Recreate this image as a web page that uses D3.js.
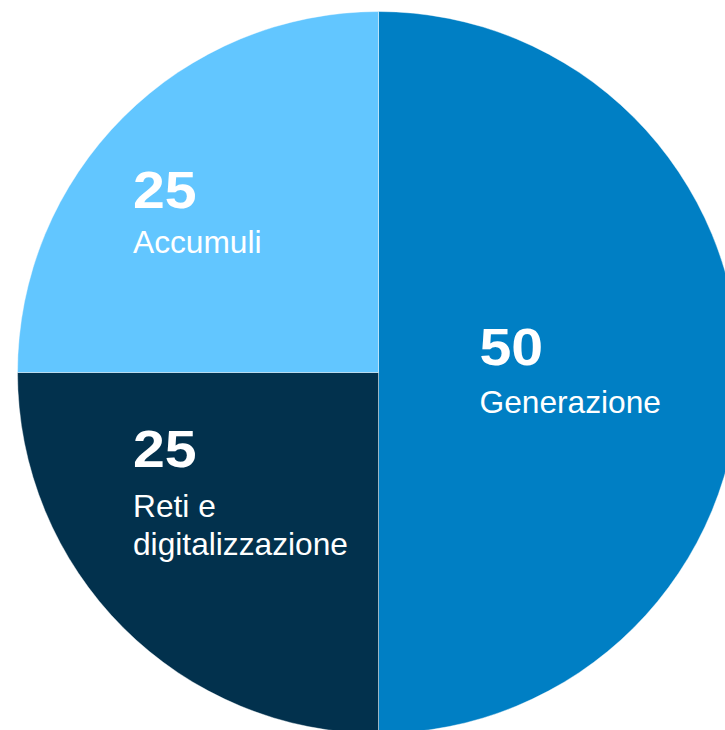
<!DOCTYPE html>
<html>
<head>
<meta charset="utf-8">
<script src="https://cdn.jsdelivr.net/npm/d3@7"></script>
<style>
  html, body { margin: 0; padding: 0; background: #ffffff; }
  svg { display: block; }
</style>
</head>
<body>
<script>
const categories = ["Generazione", "Reti e digitalizzazione", "Accumuli"];
const labelLines = [["Generazione"], ["Reti e", "digitalizzazione"], ["Accumuli"]];
const values = [50, 25, 25];
const colors = ["#007FC4", "#02314D", "#62C6FF"];

const W = 725, H = 730;
const cx = 378.5, cy = 372.5, R = 361;

const svg = d3.select("body").append("svg").attr("width", W).attr("height", H);
const g = svg.append("g").attr("transform", `translate(${cx},${cy})`);

const pie = d3.pie().sort(null).value(d => d)(values);
const arc = d3.arc().innerRadius(0).outerRadius(R);

g.selectAll("path.slice").data(pie).join("path")
  .attr("class", "slice")
  .attr("d", arc)
  .attr("fill", (d, i) => colors[i])
  .attr("stroke", "#ffffff")
  .attr("stroke-opacity", 0.5)
  .attr("stroke-width", 0.8);

// label anchors relative to center: number baseline position and label offset
const anchors = [
  { x: 101, y: -7.5, off: 48 },    // Generazione
  { x: -245.5, y: 94.5, off: 50 }, // Reti e digitalizzazione
  { x: -245.5, y: -164.5, off: 45 } // Accumuli
];

const labels = g.selectAll("g.lbl").data(pie).join("g")
  .attr("class", "lbl")
  .attr("transform", (d, i) => `translate(${anchors[i].x},${anchors[i].y})`);

labels.append("text")
  .attr("transform", "scale(1.1,1)")
  .attr("x", 0).attr("y", 0)
  .attr("fill", "#ffffff")
  .attr("font-family", "'Liberation Sans', Arial, sans-serif")
  .attr("font-weight", "bold")
  .attr("font-size", 52)
  .text((d, i) => values[i]);

labels.each(function(d, i) {
  const t = d3.select(this).append("text")
    .attr("fill", "#ffffff")
    .attr("font-family", "'Liberation Sans', Arial, sans-serif")
    .attr("font-size", 31.7);
  labelLines[i].forEach((line, j) => {
    t.append("tspan").attr("x", 0).attr("y", anchors[i].off + j * 38).text(line);
  });
});
</script>
</body>
</html>
